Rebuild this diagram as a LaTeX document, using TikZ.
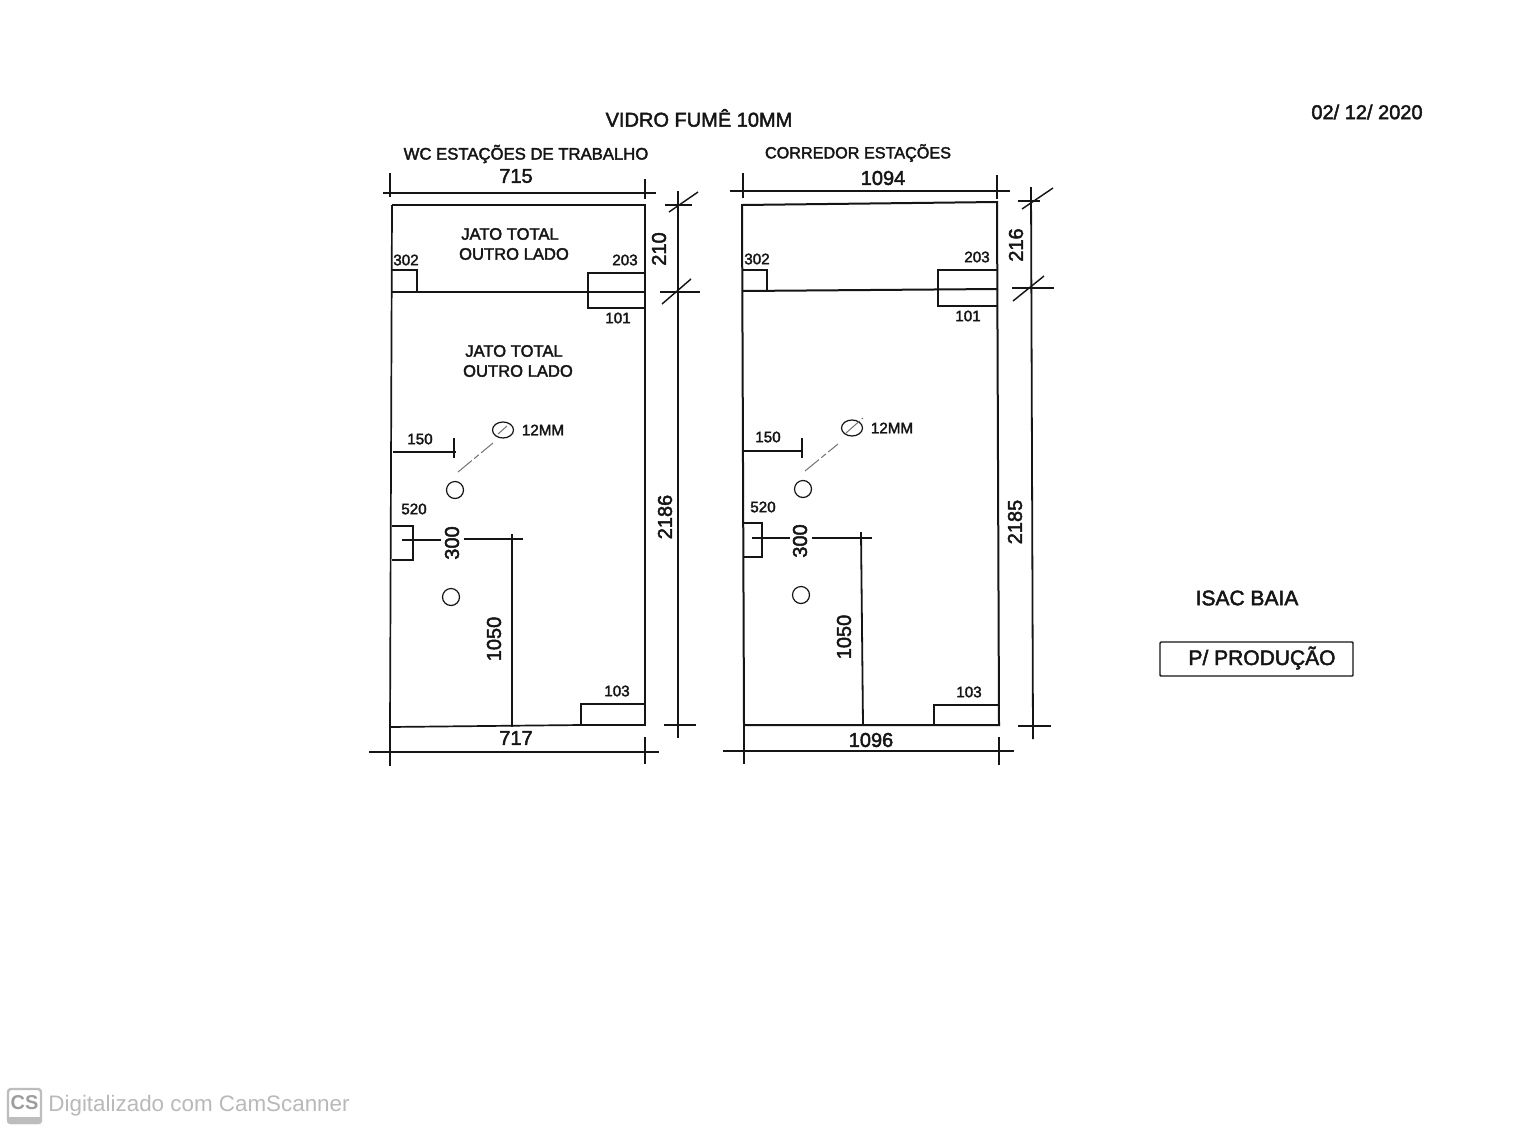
\documentclass[tikz,border=0pt]{standalone}
\usepackage{fontspec}
\newfontfamily\labfont[FakeBold=2.2]{Liberation Sans}
\newfontfamily\plainfont{Liberation Sans}
\definecolor{ink}{HTML}{151515}
\definecolor{wm}{HTML}{B9B9B9}
\definecolor{wmbox}{HTML}{BDBDBD}
\tikzset{
  wall/.style={draw=ink,line width=0.85pt},
  thinline/.style={draw=ink,line width=0.72pt},
  leader/.style={draw=ink!60,line width=0.5pt,dash pattern=on 9pt off 1.5pt on 3pt off 1.5pt},
  hole/.style={draw=ink,line width=0.6pt},
  lab/.style={inner sep=0pt,text=ink,font=\labfont\fontsize{8.3}{10}\selectfont},
  small/.style={lab,font=\labfont\fontsize{7.6}{9}\selectfont},
  big/.style={lab,font=\labfont\fontsize{10}{12}\selectfont},
  note/.style={lab,font=\labfont\fontsize{10.5}{12}\selectfont},
  vert/.style={rotate=90}
}
\begin{document}
\begin{tikzpicture}[x=0.5pt,y=-0.5pt]
\useasboundingbox (0,0) rectangle (1536,1130);
\fill[white] (0,0) rectangle (1536,1130);

% ---- headings
\node[big] (title) at (699,118) {VIDRO FUMÊ 10MM};
\node[big] (date) at (1367,112) {02/ 12/ 2020};
\node[lab,font=\labfont\fontsize{8.35}{10}\selectfont] (hA) at (526,154) {WC ESTAÇÕES DE TRABALHO};
\node[lab,font=\labfont\fontsize{8.1}{10}\selectfont] (hB) at (858,153) {CORREDOR ESTAÇÕES};

% ---- left panel
\draw[wall] (392,205) -- (645,205) -- (645,725) -- (581,725) -- (390,727) ;
\draw[wall] (392,205) -- (390,727);
\draw[wall] (392,292) -- (645,292);
\draw[thinline] (392,270) -- (417,270) -- (417,292);
\draw[thinline] (645,273) -- (588,273) -- (588,308) -- (645,308);
\draw[thinline] (645,704) -- (581,704) -- (581,725);
\draw[thinline] (392,526) -- (413,526) -- (413,560) -- (392,560);
% dims
\draw[thinline] (383,193) -- (656,193);
\draw[thinline] (390,173) -- (390,197);
\draw[thinline] (645,179) -- (645,199);
\draw[thinline] (678,191) -- (678,738);
\draw[thinline] (665,205) -- (692,205);
\draw[thinline] (669,212) -- (698,192);
\draw[thinline] (660,292) -- (700,292);
\draw[thinline] (662,304) -- (691,279);
\draw[thinline] (664,725) -- (696,725);
\draw[thinline] (369,752) -- (659,752);
\draw[thinline] (390,727) -- (390,766);
\draw[thinline] (645,737) -- (645,764);
\draw[thinline] (393,452) -- (456,452);
\draw[thinline] (454,438) -- (454,458);
\draw[thinline] (402,540) -- (441,540);
\draw[thinline] (464,539) -- (523,539);
\draw[thinline] (512,534) -- (512,727);
% holes
\draw[hole] (503,430) ellipse [x radius=10.5,y radius=8];
\draw[hole] (455,490) circle [radius=8.5];
\draw[hole] (451,597) circle [radius=8.5];
\draw[leader] (458,472) -- (493,443);
\draw[leader] (498,434) -- (507,426);

% left labels
\node[lab] (a1) at (510,234) {JATO TOTAL};
\node[lab] (a2) at (514,254) {OUTRO LADO};
\node[lab] (a3) at (514,351) {JATO TOTAL};
\node[lab] (a4) at (518,371) {OUTRO LADO};
\node[big] (a715) at (516,176) {715};
\node[big] (a717) at (516,738) {717};
\node[big,vert] (a210) at (659,249) {210};
\node[big,vert] (a2186) at (665,517) {2186};
\node[small] (a302) at (406,260) {302};
\node[small] (a203) at (625,260) {203};
\node[small] (a101) at (618,318) {101};
\node[small] (a103) at (617,691) {103};
\node[small] (a12) at (543,430) {12MM};
\node[small] (a150) at (420,439) {150};
\node[small] (a520) at (414,509) {520};
\node[big,vert] (a300) at (452,543) {300};
\node[big,vert] (a1050) at (494,639) {1050};

% ---- right panel
\draw[wall,line width=1pt] (742,205) -- (997,202) -- (999,725) -- (744,725) -- cycle;
\draw[wall,line width=1pt] (742,291) -- (997,289);
\draw[thinline] (742,270) -- (767,270) -- (767,291);
\draw[thinline] (997,270) -- (938,270) -- (938,306) -- (997,306);
\draw[thinline] (998,705) -- (934,705) -- (934,725);
\draw[thinline] (743,523) -- (762,523) -- (762,557) -- (743,557);
% dims
\draw[thinline] (730,191) -- (1010,191);
\draw[thinline] (743,173) -- (743,198);
\draw[thinline] (997,175) -- (997,199);
\draw[thinline,line width=0.9pt] (1031,187) -- (1033,739);
\draw[thinline] (1018,201) -- (1040,201);
\draw[thinline] (1022,209) -- (1053,188);
\draw[thinline] (1012,288) -- (1054,288);
\draw[thinline] (1013,301) -- (1044,276);
\draw[thinline] (1018,726) -- (1051,726);
\draw[thinline] (723,751) -- (1014,751);
\draw[thinline] (744,725) -- (744,764);
\draw[thinline] (999,737) -- (999,765);
\draw[thinline] (743,451) -- (803,451);
\draw[thinline] (802,438) -- (802,458);
\draw[thinline] (752,538) -- (790,538);
\draw[thinline] (812,538) -- (872,538);
\draw[thinline,line width=0.9pt] (861,532) -- (863,725);
% holes
\draw[hole] (852,428) ellipse [x radius=10.5,y radius=8];
\draw[hole] (803,489) circle [radius=8.5];
\draw[hole] (801,595) circle [radius=8.5];
\draw[leader] (805,471) -- (838,444);
\draw[leader] (846,433) -- (863,418);

% right labels
\node[big] (b1094) at (883,178) {1094};
\node[big] (b1096) at (871,740) {1096};
\node[big,vert] (b216) at (1016,245) {216};
\node[big,vert] (b2185) at (1015,522) {2185};
\node[small] (b302) at (757,259) {302};
\node[small] (b203) at (977,257) {203};
\node[small] (b101) at (968,316) {101};
\node[small] (b103) at (969,692) {103};
\node[small] (b12) at (892,428) {12MM};
\node[small] (b150) at (768,437) {150};
\node[small] (b520) at (763,507) {520};
\node[big,vert] (b300) at (800,541) {300};
\node[big,vert] (b1050) at (844,637) {1050};

% ---- right notes
\node[note] (isac) at (1247,598) {ISAC BAIA};
\draw[thinline,rounded corners=0.5pt] (1160,642) rectangle (1353,676);
\node[note] (prod) at (1262,658) {P/ PRODUÇÃO};

% ---- watermark
\draw[draw=wmbox,line width=1.2pt,rounded corners=1.5pt,fill=white] (8,1089) rectangle (41,1123);
\fill[wmbox,rounded corners=1.5pt] (7,1117) rectangle (42,1124);
\node[inner sep=0pt,text=wm!85!black,font=\plainfont\bfseries\fontsize{10}{12}\selectfont] (cs) at (24.5,1103) {CS};
\node[inner sep=0pt,anchor=west,text=wm,font=\plainfont\fontsize{11.2}{13}\selectfont] (wmtext) at (48,1106) {Digitalizado com CamScanner};
\end{tikzpicture}
\end{document}
